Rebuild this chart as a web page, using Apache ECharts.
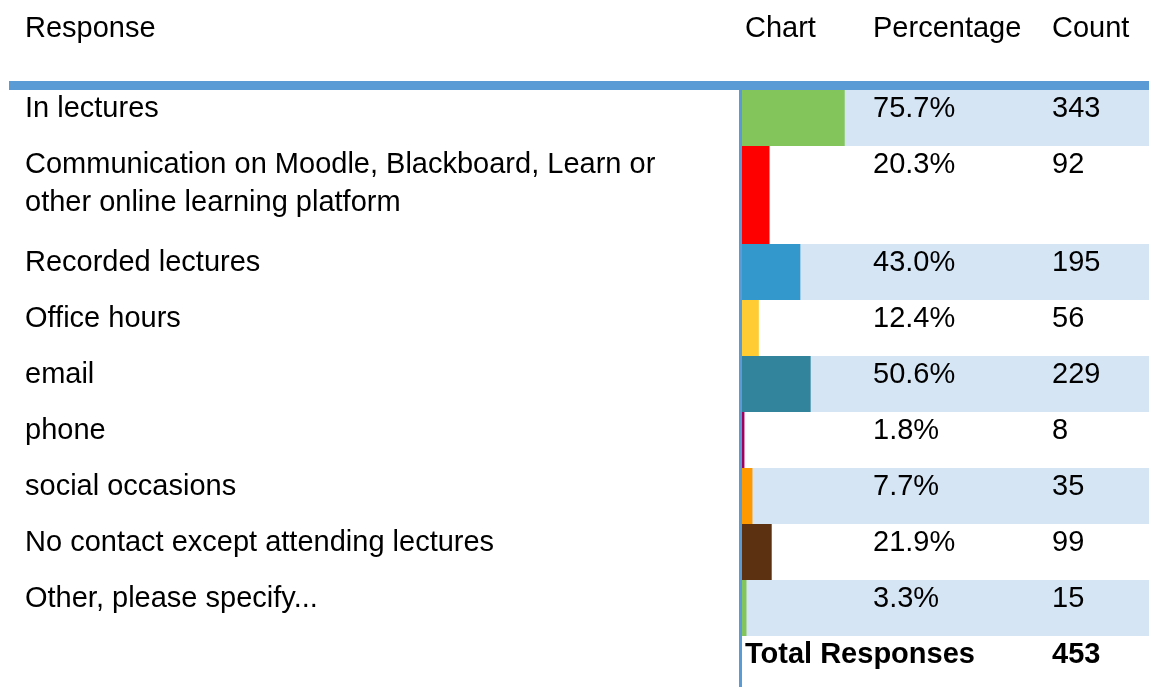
<!DOCTYPE html>
<html>
<head>
<meta charset="utf-8">
<script src="https://cdn.jsdelivr.net/npm/echarts@6/dist/echarts.min.js"></script>
<style>
  html, body { margin: 0; padding: 0; background: #fff; }
  #chart { width: 1149px; height: 687px; }
</style>
</head>
<body>
<div id="chart"></div>
<script>
// survey answers
var responses = [
  'In lectures',
  'Communication on Moodle, Blackboard, Learn or\nother online learning platform',
  'Recorded lectures',
  'Office hours',
  'email',
  'phone',
  'social occasions',
  'No contact except attending lectures',
  'Other, please specify...'
];
var percentages = [75.7, 20.3, 43.0, 12.4, 50.6, 1.8, 7.7, 21.9, 3.3];
var counts = [343, 92, 195, 56, 229, 8, 35, 99, 15];
var totalResponses = 453;
var headers = ['Response', 'Chart', 'Percentage', 'Count'];

var barColors = ['#83c55b', '#ff0000', '#3399cc', '#ffcc33', '#31849b',
                 '#a0005e', '#ff9900', '#5c3111', '#83c55b'];

var myChart = echarts.init(document.getElementById('chart'));

var font = '29px "Liberation Sans", Arial, sans-serif';
var boldFont = 'bold 29px "Liberation Sans", Arial, sans-serif';
var colX = [25, 745, 873, 1052];
var barLeft = 742;

var grids = [], xAxes = [], yAxes = [], series = [], graphics = [];

function txt(s, x, y, f) {
  graphics.push({
    type: 'text', x: x, y: y, silent: true, z: 50,
    style: { text: s, font: f || font, fill: '#000', lineHeight: 38, verticalAlign: 'top' }
  });
}

// header
for (var h = 0; h < headers.length; h++) txt(headers[h], colX[h], 10);
graphics.push({ type: 'rect', shape: { x: 9, y: 81, width: 1140, height: 9 }, style: { fill: '#5b9bd5' } });

var rowTop = 90;
for (var i = 0; i < responses.length; i++) {
  var lines = responses[i].split('\n').length;
  var rowH = 56 + 42 * (lines - 1);
  grids.push({
    left: barLeft, top: rowTop, width: 1149 - barLeft, height: rowH,
    show: i % 2 === 0, backgroundColor: '#d5e5f4', borderWidth: 0
  });
  xAxes.push({ gridIndex: i, type: 'value', min: 0, max: 300, show: false });
  yAxes.push({ gridIndex: i, type: 'category', data: [responses[i]], show: false });
  series.push({
    type: 'bar', xAxisIndex: i, yAxisIndex: i, barWidth: '100%',
    data: [percentages[i]], silent: true,
    itemStyle: { color: barColors[i] }
  });
  txt(responses[i], colX[0], rowTop);
  txt(percentages[i].toFixed(1) + '%', colX[2], rowTop);
  txt(String(counts[i]), colX[3], rowTop);
  rowTop += rowH;
}

txt('Total Responses', colX[1], rowTop, boldFont);
txt(String(totalResponses), colX[3], rowTop, boldFont);

// vertical separator
graphics.push({ type: 'rect', z: 100, shape: { x: 739, y: 90, width: 3, height: 597 }, style: { fill: '#5b9bd5' } });

var option = {
  animation: false,
  grid: grids,
  xAxis: xAxes,
  yAxis: yAxes,
  series: series,
  graphic: { elements: graphics }
};
myChart.setOption(option);
</script>
</body>
</html>
